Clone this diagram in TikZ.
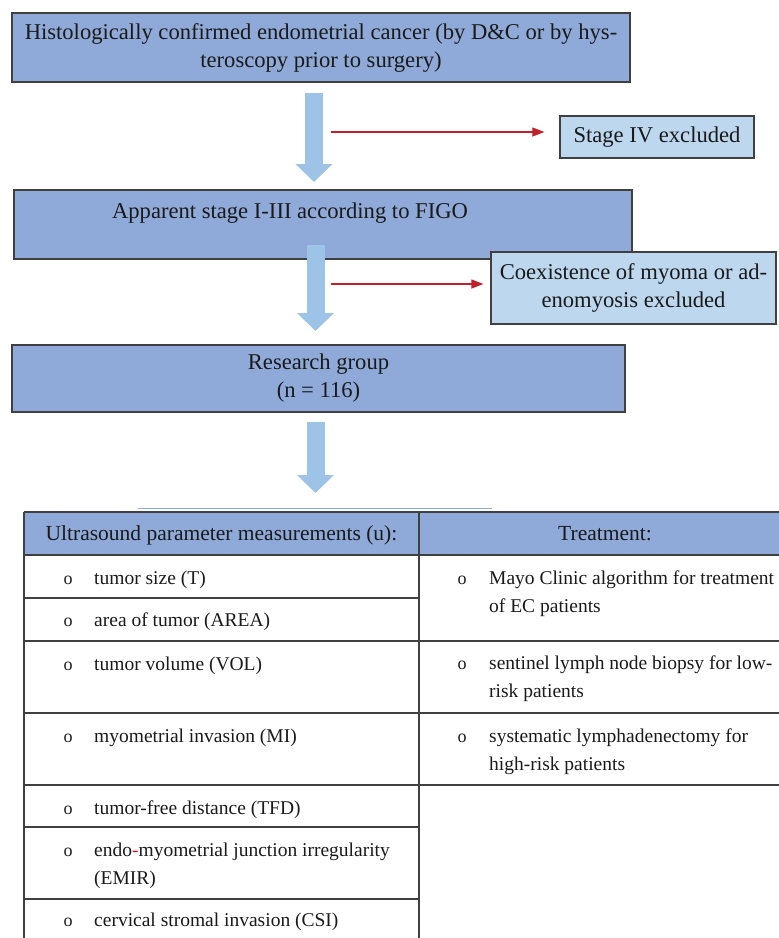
\documentclass[tikz,border=0pt]{standalone}
\usepackage{fontspec}
\setmainfont{Liberation Serif}
\usetikzlibrary{arrows.meta,calc}
\definecolor{boxblue}{HTML}{8FAAD8}
\definecolor{lightblue}{HTML}{BDD7EE}
\definecolor{arrowblue}{HTML}{9DC3E6}
\definecolor{redline}{HTML}{C0222B}
\definecolor{border}{HTML}{404040}
\definecolor{txt}{HTML}{1A1A1A}
\newcommand{\boxfont}{\fontsize{22.6}{28}\selectfont}
\newcommand{\headfont}{\fontsize{21.5}{28}\selectfont}
\newcommand{\tabfont}{\fontsize{19.5}{28}\selectfont}
\newcommand{\bul}{\fontsize{18}{18}\selectfont o}
\begin{document}
\begin{tikzpicture}[x=1pt,y=-1pt,
  mainbox/.style={draw=border,line width=1.3pt,fill=boxblue,rectangle,inner sep=0pt,text=txt,font=\boxfont,align=center},
  sidebox/.style={draw=border,line width=1.3pt,fill=lightblue,rectangle,inner sep=0pt,text=txt,font=\boxfont,align=center},
  bigarrow/.style={draw=arrowblue,line width=18pt,-{Triangle[width=36pt,length=18pt,fill=arrowblue]}},
  redarrow/.style={draw=redline,line width=1.1pt,-{Triangle[width=9pt,length=12pt]}},
  tline/.style={draw=border,line width=1.2pt},
  celltext/.style={anchor=base west,inner sep=0pt,text=txt,font=\tabfont},
  headtext/.style={anchor=base,inner sep=0pt,text=txt,font=\headfont},
  bullet/.style={anchor=base,inner sep=0pt,text=txt}]
\useasboundingbox (0,0) rectangle (779,938);
% boxes
\node[mainbox,minimum width=618pt,minimum height=69pt] (b1) at (321,47.5) {Histologically confirmed endometrial cancer (by D\&C or by hys-\\teroscopy prior to surgery)};
\node[sidebox,minimum width=194pt,minimum height=42pt] (s1) at (657,137) {Stage IV excluded};
\node[mainbox,minimum width=618pt,minimum height=69pt] (b2) at (323,224.5) {};
\node[inner sep=0pt,text=txt,font=\boxfont] (b2t) at (290,213) {Apparent stage I-III according to FIGO};
\node[sidebox,minimum width=285pt,minimum height=72pt] (s2) at (633.5,288) {Coexistence of myoma or ad-\\enomyosis excluded};
\node[mainbox,minimum width=613pt,minimum height=67pt] (b3) at (318.5,378.5) {Research group\\(n = 116)};
% big arrows
\coordinate (a1s) at (314,93);  \coordinate (a1e) at (314,182);
\coordinate (a2s) at (315.5,245); \coordinate (a2e) at (315.5,331);
\coordinate (a3s) at (315.5,422); \coordinate (a3e) at (315.5,493);
\draw[bigarrow] (a1s) -- (a1e);
\draw[bigarrow] (a2s) -- (a2e);
\draw[bigarrow] (a3s) -- (a3e);
% red arrows
\coordinate (r1s) at (331,132);
\coordinate (r2s) at (331,284);
\draw[redarrow,shorten >=15pt] (r1s) -- (r1s -| s1.west);
\draw[redarrow,shorten >=7pt] (r2s) -- (r2s -| s2.west);
% thin blue line
\coordinate (l1) at (138,508); \coordinate (l2) at (492,508);
\draw[boxblue,line width=1pt] (l1) -- (l2);
% table
\fill[boxblue] (24,512) rectangle (779,555);
\draw[tline] (24,512) -- (779,512);
\draw[tline] (24,555) -- (779,555);
\draw[tline] (24,512) -- (24,938);
\draw[tline] (419,512) -- (419,938);
\draw[tline] (24,598) -- (419,598);
\draw[tline] (24,641) -- (779,641);
\draw[tline] (24,713) -- (779,713);
\draw[tline] (24,785) -- (779,785);
\draw[tline] (24,827) -- (419,827);
\draw[tline] (24,899) -- (419,899);
% header texts
\node[headtext] (h1) at (221.5,540) {Ultrasound parameter measurements (u):};
\node[headtext] (h2) at (605,540) {Treatment:};
% left column
\node[bullet] (o1) at (68,584) {\bul}; \node[celltext] (u1) at (94,584) {tumor size (T)};
\node[bullet] (o2) at (68,626) {\bul}; \node[celltext] (u2) at (94,626) {area of tumor (AREA)};
\node[bullet] (o3) at (68,670) {\bul}; \node[celltext] (u3) at (94,670) {tumor volume (VOL)};
\node[bullet] (o4) at (68,742) {\bul}; \node[celltext] (u4) at (94,742) {myometrial invasion (MI)};
\node[bullet] (o5) at (68,814) {\bul}; \node[celltext] (u5) at (94,814) {tumor-free distance (TFD)};
\node[bullet] (o6) at (68,856) {\bul}; \node[celltext] (u6) at (94,856) {\parbox[t]{320pt}{\raggedright endo\textcolor{redline}{-}myometrial junction irregularity\\(EMIR)}};
\node[bullet] (o7) at (68,926) {\bul}; \node[celltext] (u7) at (94,926) {cervical stromal invasion (CSI)};
% right column
\node[bullet] (p1) at (462,584) {\bul}; \node[celltext] (t1) at (489,584) {\parbox[t]{285pt}{\raggedright Mayo Clinic algorithm for treatment\\of EC patients}};
\node[bullet] (p2) at (462,669) {\bul}; \node[celltext] (t2) at (489,669) {\parbox[t]{285pt}{\raggedright sentinel lymph node biopsy for low-\\risk patients}};
\node[bullet] (p3) at (462,742) {\bul}; \node[celltext] (t3) at (489,742) {\parbox[t]{285pt}{\raggedright systematic lymphadenectomy for\\high-risk patients}};
\end{tikzpicture}
\end{document}
